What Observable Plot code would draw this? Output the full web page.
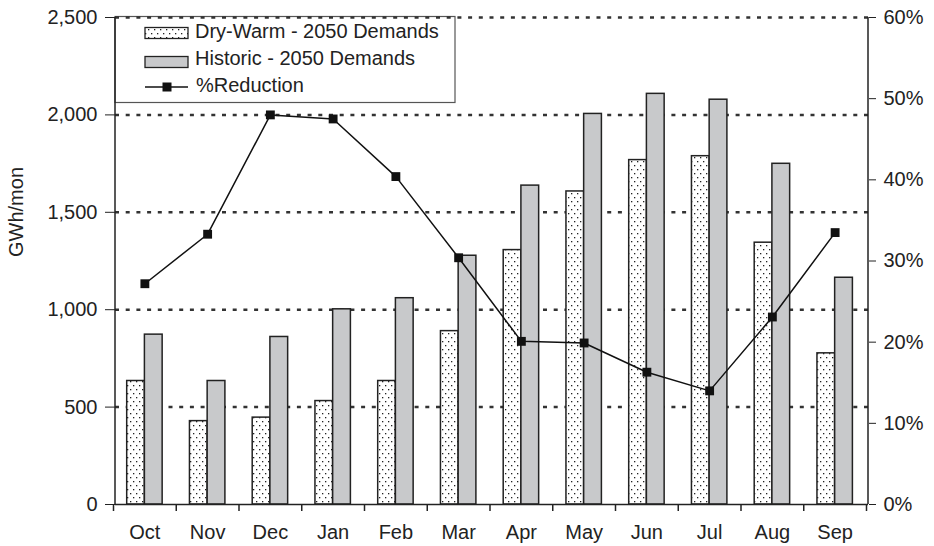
<!DOCTYPE html>
<html>
<head>
<meta charset="utf-8">
<script src="https://cdn.jsdelivr.net/npm/d3@7"></script>
<script src="https://cdn.jsdelivr.net/npm/@observablehq/plot@0.6"></script>
<style>
  body { margin: 0; background: #fff; }
  #chart { width: 934px; height: 546px; }
</style>
</head>
<body>
<div id="chart"></div>
<script>
// Monthly energy demand, 2050, under two climate scenarios
const months = ["Oct", "Nov", "Dec", "Jan", "Feb", "Mar", "Apr", "May", "Jun", "Jul", "Aug", "Sep"];
const dryWarm = [634, 428, 446, 531, 634, 890, 1306, 1607, 1768, 1788, 1344, 776];
const historic = [872, 634, 860, 1002, 1059, 1277, 1637, 2005, 2108, 2078, 1749, 1164];
const reduction = [27.2, 33.3, 48.0, 47.5, 40.4, 30.4, 20.1, 19.9, 16.3, 14.0, 23.1, 33.5];
const gwhTicks = [0, 500, 1000, 1500, 2000, 2500];
const pctTicks = [0, 10, 20, 30, 40, 50, 60];
const seriesNames = ["Dry-Warm - 2050 Demands", "Historic - 2050 Demands", "%Reduction"];
const yLabel = "GWh/mon";

const GWH_MAX = 2500, PCT_MAX = 60;
// the right-hand percent axis shares the left axis' pixel range
const pctToGwh = p => p * GWH_MAX / PCT_MAX;

const rows = months.map((m, i) => ({month: m, dry: dryWarm[i], hist: historic[i], pct: reduction[i]}));

const FONT = "'Liberation Sans', Arial, Helvetica, sans-serif";
const INK = "#222";

const chart = Plot.plot({
  width: 934,
  height: 546,
  marginTop: 17,
  marginBottom: 42,
  marginLeft: 115,
  marginRight: 66,
  style: {fontFamily: FONT, fontSize: "20px", color: INK, background: "transparent", overflow: "visible"},
  x: {type: "band", domain: months, padding: 0, round: false},
  y: {domain: [0, GWH_MAX]},
  marks: [
    Plot.ruleY(gwhTicks.filter(d => d > 0), {stroke: "#333", strokeWidth: 2.5, strokeDasharray: "4,6.7"}),
    Plot.barY(rows, {x: "month", y: "dry", fill: "url(#dw-dots)", stroke: INK, strokeWidth: 1.5, insetLeft: 11.7, insetRight: 33.4}),
    Plot.barY(rows, {x: "month", y: "hist", fill: "#c8c9cb", stroke: INK, strokeWidth: 1.5, insetLeft: 29.4, insetRight: 15.6}),
    Plot.line(rows, {x: "month", y: d => pctToGwh(d.pct), stroke: "#111", strokeWidth: 1.5, dx: -2}),
    Plot.dot(rows, {x: "month", y: d => pctToGwh(d.pct), symbol: "square", r: 5, fill: "#111", stroke: "none", dx: -2}),
    Plot.ruleY([0], {stroke: INK, strokeWidth: 1.5}),
    Plot.axisY(gwhTicks, {anchor: "left", tickFormat: d3.format(","), tickSize: 10, tickPadding: 8, label: null}),
    Plot.axisY(pctTicks.map(pctToGwh), {anchor: "right", tickFormat: d => Math.round(d * PCT_MAX / GWH_MAX) + "%", tickSize: 7, tickPadding: 8, label: null}),
    Plot.axisX({tickSize: 0, tickPadding: 20, dx: -2, label: null}),
    Plot.text([yLabel], {frameAnchor: "left", rotate: -90, dx: -98.5, dy: -4, fontSize: 20, fill: INK})
  ]
});

const svg = d3.select(chart);
const xs = chart.scale("x");
const ys = chart.scale("y");
const [x0, x1] = xs.range;
const [yBottom, yTop] = ys.range;

// stipple pattern for the dry-warm bars
const defs = svg.insert("defs", ":first-child");
const pat = defs.append("pattern")
  .attr("id", "dw-dots").attr("patternUnits", "userSpaceOnUse")
  .attr("width", 6).attr("height", 8);
pat.append("rect").attr("width", 6).attr("height", 8).attr("fill", "#fff");
pat.append("rect").attr("x", 1).attr("y", 1).attr("width", 1.3).attr("height", 1.3).attr("fill", "#222");
pat.append("rect").attr("x", 4).attr("y", 5).attr("width", 1.3).attr("height", 1.3).attr("fill", "#222");

// legend box, drawn beneath the grid and marks
const lg = svg.insert("g", "defs + *")
  .attr("font-family", FONT).attr("font-size", 20).attr("fill", INK).attr("text-anchor", "start");
lg.append("rect").attr("x", x0).attr("y", yTop - 0.5).attr("width", 340).attr("height", 86)
  .attr("fill", "#fff").attr("stroke", "#555").attr("stroke-width", 1.2);
lg.append("rect").attr("x", 145).attr("y", 27.5).attr("width", 43).attr("height", 11)
  .attr("fill", "url(#dw-dots)").attr("stroke", INK).attr("stroke-width", 1.3);
lg.append("text").attr("x", 195).attr("y", 38.3).text(seriesNames[0]);
lg.append("rect").attr("x", 145).attr("y", 56.5).attr("width", 43).attr("height", 11)
  .attr("fill", "#c8c9cb").attr("stroke", INK).attr("stroke-width", 1.3);
lg.append("text").attr("x", 195).attr("y", 65).text(seriesNames[1]);
lg.append("line").attr("x1", 145).attr("x2", 188).attr("y1", 87).attr("y2", 87)
  .attr("stroke", "#111").attr("stroke-width", 1.5);
lg.append("rect").attr("x", 162.5).attr("y", 82.5).attr("width", 9).attr("height", 9).attr("fill", "#111");
lg.append("text").attr("x", 196).attr("y", 91.7).text(seriesNames[2]);

// vertical axis lines and category boundary ticks
const ax = svg.append("g").attr("stroke", INK).attr("stroke-width", 1.5);
ax.append("line").attr("x1", x0).attr("x2", x0).attr("y1", yBottom).attr("y2", yTop);
ax.append("line").attr("x1", x1).attr("x2", x1).attr("y1", yBottom).attr("y2", yTop);
const bounds = months.map(m => xs.apply(m)).concat([x1]);
ax.selectAll(".bt").data(bounds).join("line")
  .attr("x1", d => d - 1.5).attr("x2", d => d - 1.5).attr("y1", yBottom).attr("y2", yBottom + 7);

document.getElementById("chart").appendChild(chart);
</script>
</body>
</html>
